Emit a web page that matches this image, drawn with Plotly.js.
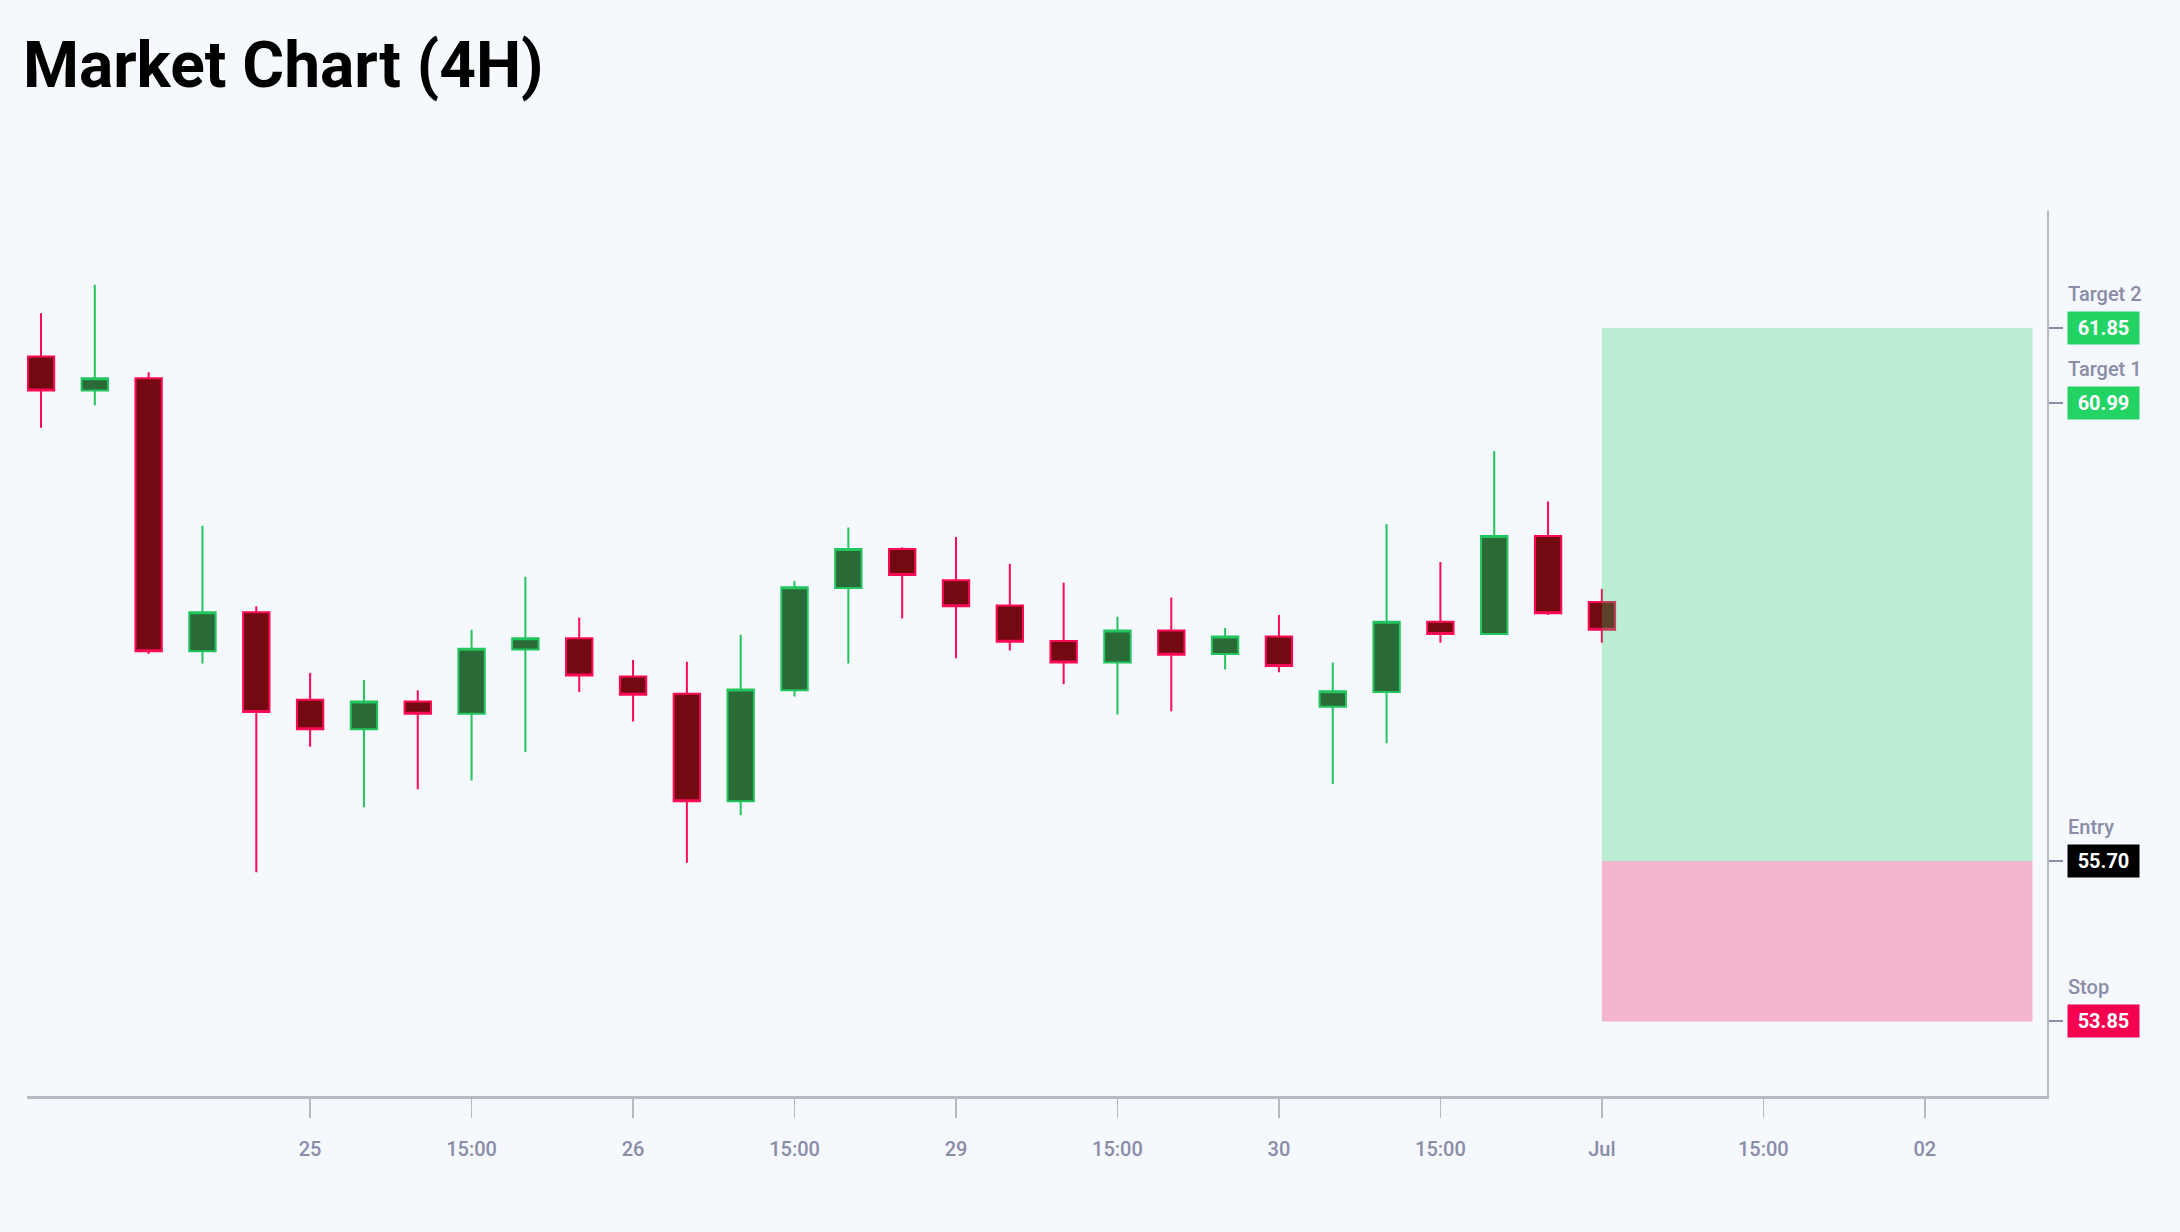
<!DOCTYPE html>
<html>
<head>
<meta charset="utf-8">
<script src="https://cdn.plot.ly/plotly-3.0.1.min.js"></script>
<style>
  html, body { margin: 0; padding: 0; background: #f5f8fc; }
  #chart { width: 2180px; height: 1232px; }
</style>
</head>
<body>
<div id="chart"></div>
<script>
// 4H candles
const opens  = [61.52, 61.13, 61.27, 58.12, 58.57, 57.56, 57.22, 57.54, 57.40, 58.14,
                58.27, 57.83, 57.63, 56.39, 57.67, 58.85, 59.30, 58.94, 58.65, 58.24,
                57.99, 58.36, 58.09, 58.29, 57.48, 57.65, 58.46, 58.32, 59.45, 58.69];
const highs  = [62.02, 62.35, 61.34, 59.57, 58.64, 57.87, 57.79, 57.67, 58.37, 58.98,
                58.51, 58.02, 58.00, 58.31, 58.93, 59.55, 59.32, 59.44, 59.13, 58.91,
                58.52, 58.74, 58.39, 58.54, 57.99, 59.59, 59.15, 60.43, 59.85, 58.84];
const lows   = [60.70, 60.96, 58.09, 57.98, 55.57, 57.02, 56.32, 56.53, 56.63, 56.96,
                57.65, 57.31, 55.68, 56.23, 57.60, 57.98, 58.50, 58.04, 58.13, 57.74,
                57.39, 57.43, 57.91, 57.88, 56.59, 57.06, 58.22, 58.32, 58.54, 58.22];
const closes = [61.13, 61.27, 58.12, 58.57, 57.42, 57.22, 57.54, 57.40, 58.15, 58.27,
                57.84, 57.62, 56.39, 57.68, 58.86, 59.30, 59.00, 58.64, 58.23, 57.99,
                58.36, 58.08, 58.29, 57.95, 57.66, 58.46, 58.32, 59.45, 58.56, 58.37];

// x axis tick labels, one every 3 candles starting at the 6th candle
const tickLabels = ['25', '15:00', '26', '15:00', '29', '15:00', '30', '15:00', 'Jul', '15:00', '02'];

// trade levels
const levelNames  = ['Target 2', 'Target 1', 'Entry', 'Stop'];
const levelValues = [61.85, 60.99, 55.70, 53.85];
const levelColors = ['#23d464', '#23d464', '#000000', '#f50050'];

const projectionBars = 8;

const GREEN = '#23d464';
const RED = '#f50050';
const MUTED = '#8a8ca8';
const AXIS = '#b6b9c0';

const x = opens.map((_, i) => i);
const last = x[x.length - 1];
const tickvals = tickLabels.map((_, i) => 5 + 3 * i);

const candles = {
    type: 'candlestick',
    x: x,
    open: opens,
    high: highs,
    low: lows,
    close: closes,
    increasing: { line: { color: '#22c55e', width: 2 }, fillcolor: '#2a6a37' },
    decreasing: { line: { color: '#ff0a55', width: 2 }, fillcolor: '#730a12' },
    hoverinfo: 'skip',
    showlegend: false
};

const entry = levelValues[2];
const stop = levelValues[3];
const target2 = levelValues[0];

const shapes = [
    { type: 'rect', xref: 'x', yref: 'y', x0: last, x1: last + projectionBars, y0: entry, y1: target2,
      fillcolor: GREEN, opacity: 0.27, line: { width: 0 }, layer: 'above' },
    { type: 'rect', xref: 'x', yref: 'y', x0: last, x1: last + projectionBars, y0: stop, y1: entry,
      fillcolor: RED, opacity: 0.27, line: { width: 0 }, layer: 'above' }
];

const annotations = [];
levelValues.forEach((v, i) => {
    annotations.push({
        xref: 'paper', x: 1, xanchor: 'left', xshift: 20,
        yref: 'y', y: v, yanchor: 'middle',
        text: '<b>' + v.toFixed(2) + '</b>',
        showarrow: false,
        font: { family: 'Roboto', size: 20, color: '#ffffff' },
        bgcolor: levelColors[i],
        borderpad: 4,
        width: 63,
        align: 'center'
    });
    annotations.push({
        xref: 'paper', x: 1, xanchor: 'left', xshift: 20,
        yref: 'y', y: v, yanchor: 'middle', yshift: 34,
        text: levelNames[i],
        showarrow: false,
        font: { family: 'Roboto', size: 20, color: MUTED, weight: 500 },
        borderpad: 0
    });
});

const layout = {
    width: 2180,
    height: 1232,
    paper_bgcolor: '#f5f8fc',
    plot_bgcolor: '#f5f8fc',
    margin: { l: 27, r: 133, t: 211, b: 136 },
    title: {
        text: 'Market Chart (4H)',
        font: { family: 'Roboto', size: 64, color: '#000000', weight: 700 },
        x: 0.0105, xref: 'container', xanchor: 'left',
        y: 1 - 65 / 1232, yref: 'container', yanchor: 'middle'
    },
    xaxis: {
        type: 'linear',
        range: [-0.26, 37.27],
        tickvals: tickvals,
        ticktext: tickLabels,
        ticks: 'outside',
        ticklen: 19,
        tickwidth: 1.5,
        tickcolor: AXIS,
        ticklabelstandoff: 14,
        tickfont: { family: 'Roboto', size: 20, color: MUTED, weight: 500 },
        showline: true,
        linecolor: AXIS,
        linewidth: 2.5,
        showgrid: false,
        zeroline: false,
        rangeslider: { visible: false },
        fixedrange: true
    },
    yaxis: {
        side: 'right',
        range: [52.99, 63.2],
        tickvals: levelValues,
        showticklabels: false,
        ticks: 'outside',
        ticklen: 14,
        tickwidth: 2,
        tickcolor: MUTED,
        showline: true,
        linecolor: AXIS,
        linewidth: 1.5,
        showgrid: false,
        zeroline: false,
        fixedrange: true
    },
    shapes: shapes,
    annotations: annotations,
    hovermode: false
};

Plotly.newPlot('chart', [candles], layout, { displayModeBar: false, staticPlot: true });
</script>
</body>
</html>
